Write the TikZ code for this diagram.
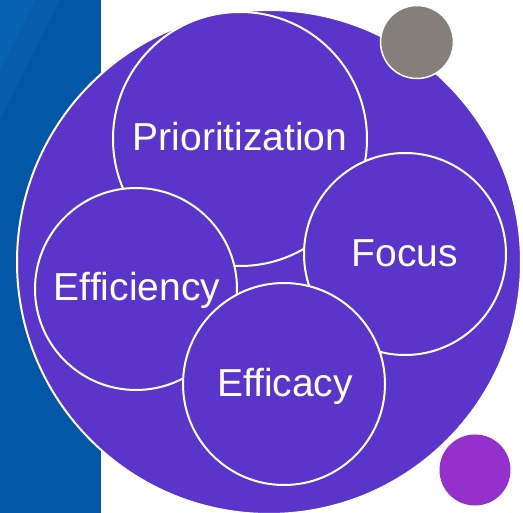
\documentclass[tikz,border=0pt]{standalone}
\usepackage{fontspec}
\setmainfont{Liberation Sans}
\definecolor{bandblue}{HTML}{0257A6}
\definecolor{bandlight}{HTML}{0B6BBA}
\definecolor{mainpurple}{HTML}{5B35C9}
\definecolor{dotgrey}{HTML}{857F7B}
\definecolor{dotmagenta}{HTML}{9430CC}
\tikzset{
  ring/.style={circle, draw=white, line width=2pt, fill=mainpurple, inner sep=0pt},
  label/.style={text=white, font=\fontsize{39}{39}\selectfont, anchor=base},
}
\begin{document}
\begin{tikzpicture}[x=1pt,y=-1pt]
\useasboundingbox (0,0) rectangle (523,513);
\fill[white] (0,0) rectangle (523,513);
% blue band
\fill[bandblue] (0,0) rectangle (101,513);
\fill[bandlight, opacity=0.6] (0,0) -- (35,0) -- (0,70) -- cycle;
\fill[bandlight, opacity=0.35] (35,0) -- (60,0) -- (0,120) -- (0,70) -- cycle;
% big circle
\node[ring, minimum size=504pt] (big) at (269,262) {};
% inner circles
\node[ring, minimum size=254pt] (prio) at (240,139) {};
\node[ring, minimum size=202pt] (focus) at (405,254) {};
\node[ring, minimum size=202pt] (effi) at (136,289) {};
\node[ring, minimum size=202pt] (effa) at (284,384) {};
% small dots
\node[circle, fill=dotgrey, draw=white, line width=1.5pt, minimum size=73pt, inner sep=0pt] (grey) at (417,42) {};
\node[circle, fill=dotmagenta, minimum size=71pt, inner sep=0pt] (mag) at (475,470) {};
% labels
\node[label] (tprio) at (240,151) {Prioritization};
\node[label] (tfocus) at (405,267) {Focus};
\node[label] (teffi) at (137,301) {Efficiency};
\node[label] (teffa) at (285,397) {Efficacy};
\end{tikzpicture}
\end{document}
